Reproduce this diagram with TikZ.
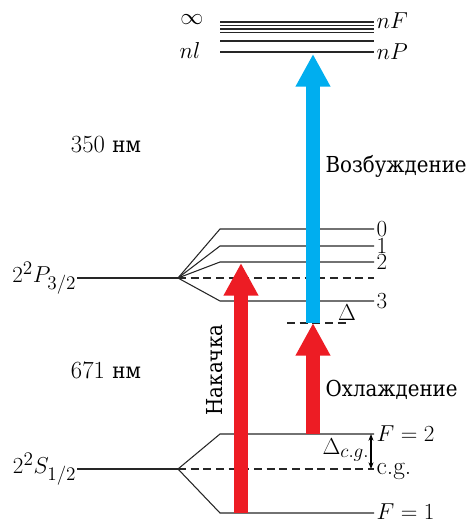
\documentclass[tikz,border=0pt]{standalone}
\usepackage{fontspec}
\newfontfamily\cyrfont[FakeStretch=0.9]{DejaVu Serif}
\newcommand{\ru}[1]{{\cyrfont\fontsize{16.5}{20}\selectfont #1}}
\usetikzlibrary{arrows.meta}
\definecolor{cred}{HTML}{ED1C24}
\definecolor{cblue}{HTML}{00AEEF}
\tikzset{
  level/.style={draw=black!85, line width=0.8pt},
  midlevel/.style={level, dash pattern=on 6pt off 3.5pt},
  beam/.style={draw=#1, line width=10.5pt, -{Triangle[width=24.5pt, length=24.5pt]}},
  lbl/.style={font=\fontsize{19}{22}\selectfont, inner sep=0.3pt},
  txt/.style={font=\fontsize{18.5}{22}\selectfont, inner sep=1pt},
}

\begin{document}
\begin{tikzpicture}[x=0.75pt, y=-0.75pt]
  \useasboundingbox (0,0) rectangle (473,522);
  % upper levels
  \foreach \yy [count=\i] in {22,25.5,29,32.5,41,52}
    \draw[level] (220,\yy) coordinate (up\i) -- (374,\yy) coordinate (ue\i);
  \node[lbl] (inf) at (192,20) {$\infty$};
  \node[lbl] (nl) at (190,50) {$nl$};
  \node[lbl, anchor=west] (nF) at (376,21) {$nF$};
  \node[lbl, anchor=west] (nP) at (376,52) {$nP$};
  % 2P_{3/2}
  \coordinate (Pin) at (77,278);
  \coordinate (Pfan) at (178,278);
  \coordinate (Pmid) at (374,278);
  \draw[level] (Pin) -- (Pfan);
  \draw[midlevel] (Pfan) -- (Pmid);
  \foreach \yy/\lab in {229/0,246/1,262/2,301/3} {
    \draw[level] (Pfan) -- (220,\yy) coordinate (p\lab) -- (374,\yy) coordinate (pe\lab);
    \node[lbl, anchor=west] (pl\lab) at (376,\yy) {$\lab$};
  }
  \node[lbl, anchor=east] (Plabel) at (Pin) {$2^2P_{3/2}$};
  % 2S_{1/2}
  \coordinate (Sin) at (77,469);
  \coordinate (Sfan) at (178,469);
  \coordinate (Smid) at (374,469);
  \draw[level] (Sin) -- (Sfan);
  \draw[midlevel] (Sfan) -- (Smid);
  \draw[level] (Sfan) -- (220,434) coordinate (s2) -- (374,434) coordinate (se2);
  \draw[level] (Sfan) -- (220,513) coordinate (s1) -- (374,513) coordinate (se1);
  \node[lbl, anchor=east] (Slabel) at (Sin) {$2^2S_{1/2}$};
  \node[lbl, anchor=west] (F2) at (376,434) {$F=2$};
  \node[lbl, anchor=west] (cg) at (376,471) {c.g.};
  \node[lbl, anchor=west] (F1) at (376,512) {$F=1$};
  \draw[{Stealth[length=5pt]}-{Stealth[length=5pt]}, line width=0.8pt] (371,434) coordinate (dt) -- (371,469) coordinate (db);
  \node[lbl, anchor=east] (dcg) at (370,450) {$\Delta_{c.g.}$};
  % detuned level
  \coordinate (dl) at (287,323);
  \coordinate (dr) at (348,323);
  \draw[midlevel] (dl) -- (dr);
  \node[lbl] (delta) at (347,313) {$\Delta$};
  % beams
  \coordinate (pumpA) at (241,513);
  \coordinate (pumpB) at (241,263);
  \coordinate (coolA) at (313,434);
  \coordinate (coolB) at (313,323);
  \coordinate (excB) at (313,54);
  \draw[beam=cred] (pumpA) -- (pumpB);
  \draw[beam=cred] (coolA) -- (coolB);
  \draw[beam=cblue] (coolB) -- (excB);
  % captions
  \node[txt] (w350) at (106,145) {350~\ru{нм}};
  \node[txt] (w671) at (106,370) {671~\ru{нм}};
  \node[txt, anchor=west] (exc) at (324,166) {\ru{Возбуждение}};
  \node[txt, anchor=west] (cool) at (324,390) {\ru{Охлаждение}};
  \node[txt, rotate=90] (pump) at (215,370) {\ru{Накачка}};
\end{tikzpicture}
\end{document}
